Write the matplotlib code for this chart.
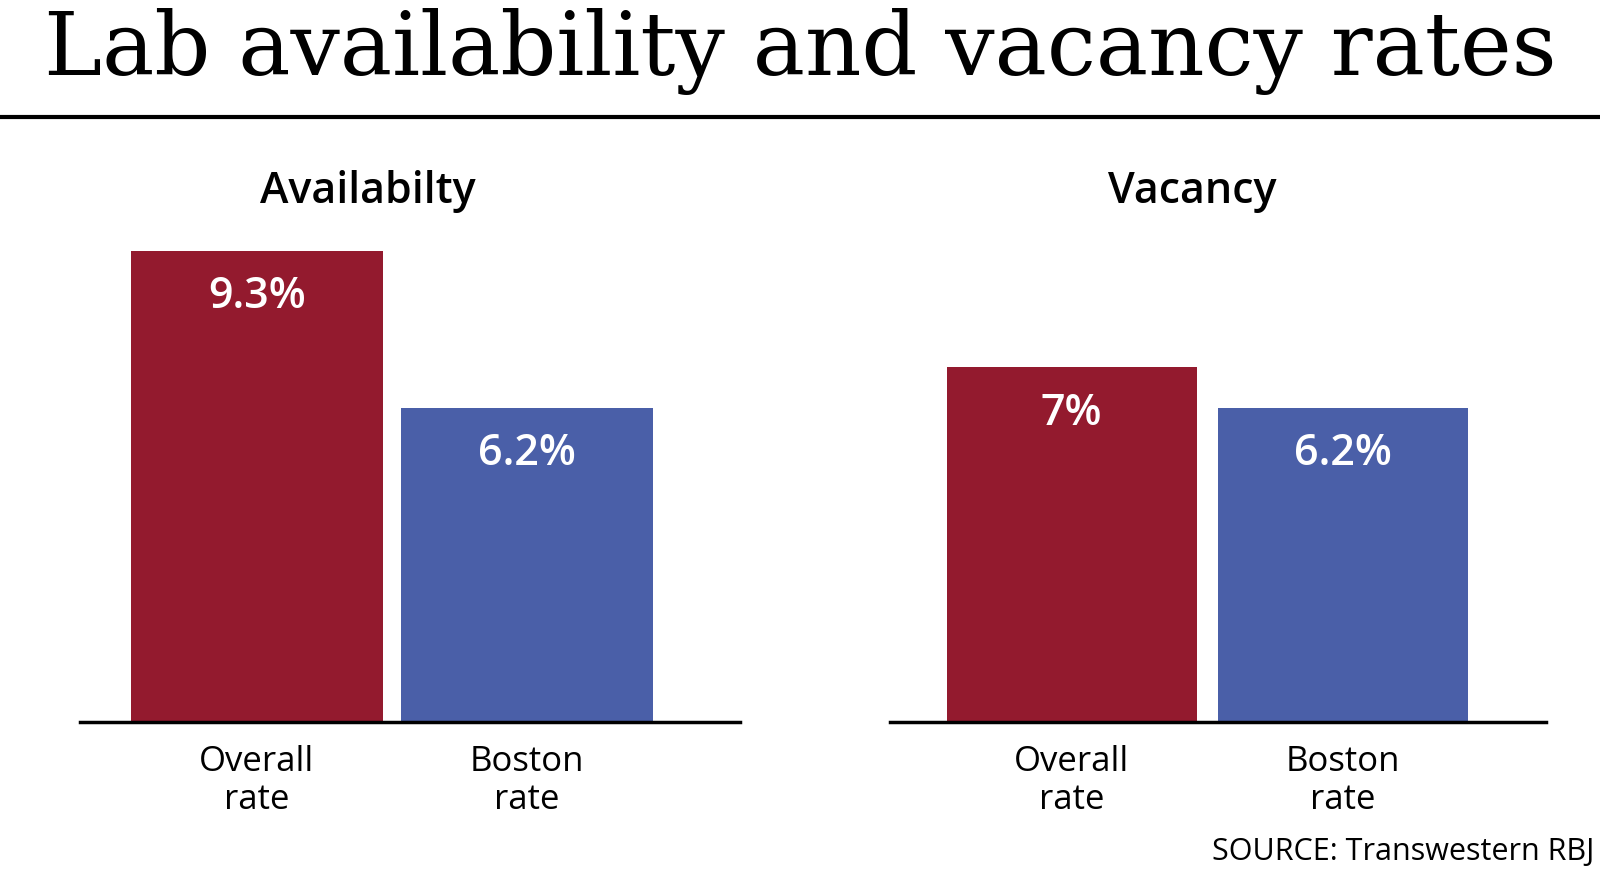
import matplotlib
matplotlib.use("Agg")
import matplotlib.pyplot as plt

categories = ["Overall\nrate", "Boston\nrate"]
availability = [9.3, 6.2]
vacancy = [7, 6.2]
value_labels_avail = ["9.3%", "6.2%"]
value_labels_vac = ["7%", "6.2%"]
colors = ["#931A2E", "#4A5FA8"]

W, H = 1600, 875
k = 1600 / 1568
fig = plt.figure(figsize=(16, 8.75), dpi=100)
fig.patch.set_facecolor("white")

fig.text(0.5, 1 - 50 * k / H, "Lab availability and vacancy rates", ha="center", va="center",
         family="DejaVu Serif", fontsize=63)
fig.add_artist(plt.Line2D([0, 1], [1 - 115 * k / H] * 2, color="black", lw=3))

scale = 49.7 * k
top_px = 150 * k
base_px = 708 * k

def panel(x0, x1, xlim, width, values, labels, title, title_x):
    x0 *= k; x1 *= k
    ax = fig.add_axes([x0 / W, 1 - base_px / H, (x1 - x0) / W, (base_px - top_px) / H])
    ax.set_xlim(*xlim)
    ax.set_ylim(0, (base_px - top_px) / scale)
    ax.bar(range(len(values)), values, width=width, color=colors)
    for i, (v, l) in enumerate(zip(values, labels)):
        ax.text(i, v - 0.9, l, ha="center", va="center", color="white",
                family="Open Sans", fontweight="semibold", fontsize=31)
        ax.text(i, -0.45, categories[i], ha="center", va="top", color="black",
                family="Open Sans", fontweight="medium", fontsize=25, linespacing=1.15)
    for s in ["top", "right", "left"]:
        ax.spines[s].set_visible(False)
    ax.spines["bottom"].set_linewidth(2.5)
    ax.set_xticks([]); ax.set_yticks([])
    fig.text(title_x * k / W, 1 - 188 * k / H, title, ha="center", va="center",
             family="Open Sans", fontweight="semibold", fontsize=31)

panel(78, 725, (-0.655, 1.787), 0.932, availability, value_labels_avail, "Availabilty", 360)
panel(872, 1515, (-0.669, 1.746), 0.92, vacancy, value_labels_vac, "Vacancy", 1168)

fig.text(1562 * k / W, 1 - 835 * k / H, "SOURCE: Transwestern RBJ", ha="right", va="center",
         family="Open Sans", fontweight="medium", fontsize=22)

fig.savefig("out.png", dpi=100, facecolor="white")
